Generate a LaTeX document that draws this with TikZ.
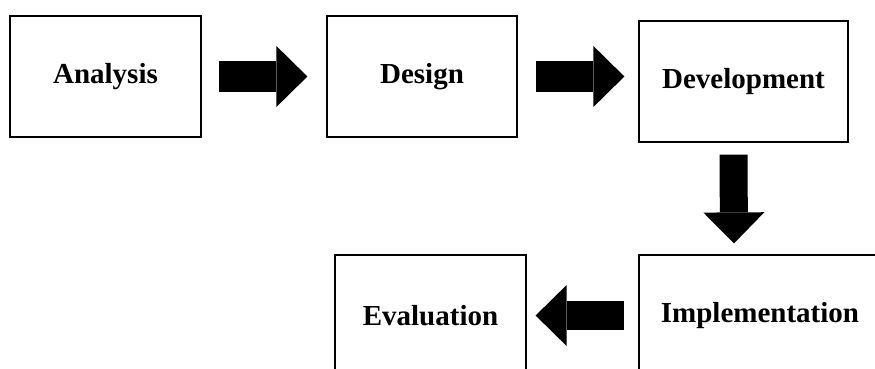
\documentclass[tikz,border=0pt]{standalone}
\usepackage{fontspec}
\setmainfont{Liberation Serif}
\usepackage{tikz}
\usetikzlibrary{arrows.meta,calc,positioning}
\tikzset{%
	stage/.style    = {draw, rectangle, line width=1.2pt, minimum height=121pt, text centered, font=\fontsize{29}{34}\selectfont\bfseries},
	bigarrow/.style = {line width=30pt, -{Triangle[width=61pt,length=31pt,line width=0pt]}},
}
\begin{document}
\begin{tikzpicture}[x=1pt,y=-1pt]
		\useasboundingbox (0,0) rectangle (875,369);
		
		\node[stage,minimum width=191pt] (analysis) at (105.5,76.5) {Analysis};
		\node[stage,minimum width=190pt] (design) at (422,76.5) {Design};
		\node[stage,minimum width=209pt] (development) at (743.5,81.5) {Development};
		\node[stage,minimum width=242pt] (implementation) at (760,315.5) {Implementation};
		\node[stage,minimum width=191pt] (evaluation) at (430.5,315.5) {Evaluation};
		
		\draw[bigarrow] ([xshift=17pt]analysis.east) -- ([xshift=-19pt]design.west);
		\draw[bigarrow] ([xshift=18pt]design.east) -- ([xshift=-14pt]development.west |- design.east);
		\draw[bigarrow,line width=28pt] ([xshift=-10pt,yshift=-12pt]development.south) -- ([xshift=-26pt,yshift=11pt]implementation.north);
		\draw[bigarrow,line width=29pt] ([xshift=-14pt]implementation.west) -- ([xshift=9pt]evaluation.east);
\end{tikzpicture}
\end{document}
